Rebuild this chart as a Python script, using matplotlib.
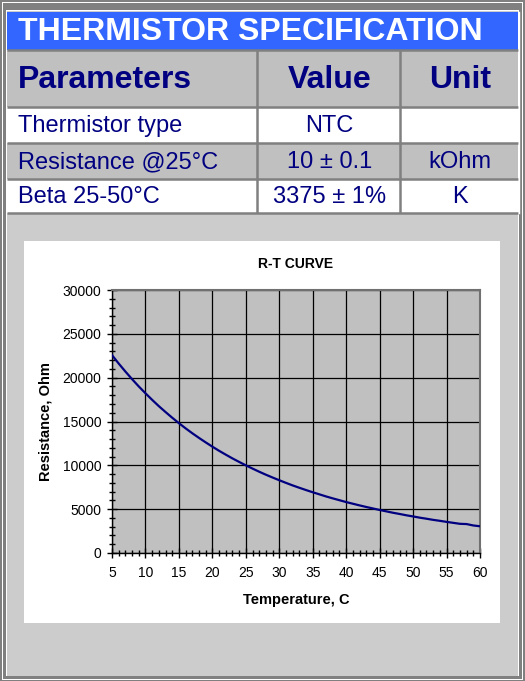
"""
Thermistor spec sheet: header table + R-T curve.
"""
import matplotlib

matplotlib.use("Agg")
import matplotlib.pyplot as plt
from matplotlib.patches import Rectangle
from matplotlib.ticker import MultipleLocator

plt.rcParams["font.family"] = ["Liberation Sans", "DejaVu Sans"]

# ---- table content ----
TITLE = "THERMISTOR SPECIFICATION"
HEADERS = ["Parameters", "Value", "Unit"]
PARAMS = ["Thermistor type", "Resistance @25°C", "Beta 25-50°C"]
VALUES = ["NTC", "10 ± 0.1", "3375 ± 1%"]
UNITS = ["", "kOhm", "K"]

# ---- R-T curve (1 °C steps) ----
temp_c = list(range(5, 61))
resistance = [
    22570, 21610, 20700, 19830, 19000, 18220, 17470, 16750, 16080, 15430,
    14810, 14220, 13660, 13130, 12620, 12130, 11660, 11220, 10790, 10390,
    10000, 9630, 9270, 8930, 8610, 8300, 8000, 7710, 7440, 7180,
    6930, 6690, 6450, 6230, 6020, 5810, 5620, 5430, 5250, 5080,
    4910, 4750, 4590, 4450, 4300, 4170, 4030, 3910, 3780, 3670,
    3550, 3440, 3330, 3300, 3140, 3050,
]

NAVY = "#000080"
BLUE = "#3366FF"
CELL_GRAY = "#C0C0C0"
PANEL_GRAY = "#CCCCCC"
LINE_GRAY = "#808080"

W, H = 525, 681
fig = plt.figure(figsize=(W / 100, H / 100), dpi=100)

# background canvas in pixel units
bg = fig.add_axes([0, 0, 1, 1])
bg.set_xlim(0, W)
bg.set_ylim(H, 0)
bg.axis("off")


def box(x0, y0, x1, y1, color, z=1):
    bg.add_patch(Rectangle((x0, y0), x1 - x0, y1 - y0, facecolor=color,
                           edgecolor="none", zorder=z))


# outer 3D frame
box(0, 0, W, H, LINE_GRAY, 0)
box(2, 2, W - 2, H - 1, "white", 0.1)
box(3, 3, W - 3, H - 2, LINE_GRAY, 0.2)
box(6, 10, W - 6, H - 5, "white", 0.3)
box(7, 11, W - 7, H - 5, PANEL_GRAY, 0.4)

# rows: title, header, 3 data rows
x_l, x_r = 7, 518
col_x = [x_l, 257, 400, x_r]
row_y = [12, 50, 107, 143, 179, 213]

box(x_l, row_y[0], x_r, row_y[1], BLUE, 1)
box(x_l, row_y[1], x_r, row_y[2], CELL_GRAY, 1)
row_colors = ["white", CELL_GRAY, "white"]
for i, c in enumerate(row_colors):
    box(x_l, row_y[i + 2], x_r, row_y[i + 3], c, 1)

# cell borders
for y in row_y[1:]:
    bg.plot([x_l, x_r], [y, y], color=LINE_GRAY, lw=1.8, zorder=2,
            solid_capstyle="butt")
for x in col_x[1:3]:
    bg.plot([x, x], [row_y[1], row_y[-1]], color=LINE_GRAY, lw=1.8,
            zorder=2, solid_capstyle="butt")
bg.plot([x_r + 0.5, x_r + 0.5], [row_y[0], row_y[-1]], color="white",
        lw=1, zorder=2)

bg.text(18, (row_y[0] + row_y[1]) / 2 + 1, TITLE, color="white",
        fontsize=23, fontweight="bold", ha="left", va="center", zorder=3)

centers_x = [None, (col_x[1] + col_x[2]) / 2 + 1, (col_x[2] + col_x[3]) / 2 + 1]
hy = (row_y[1] + row_y[2]) / 2 + 1
bg.text(18, hy, HEADERS[0], color=NAVY, fontsize=23, fontweight="bold",
        ha="left", va="center", zorder=3)
for j in (1, 2):
    bg.text(centers_x[j], hy, HEADERS[j], color=NAVY, fontsize=23,
            fontweight="bold", ha="center", va="center", zorder=3)

for i in range(3):
    cy = (row_y[i + 2] + row_y[i + 3]) / 2 + 1
    bg.text(18, cy, PARAMS[i], color=NAVY, fontsize=17, ha="left",
            va="center", zorder=3)
    bg.text(centers_x[1], cy, VALUES[i], color=NAVY, fontsize=17,
            ha="center", va="center", zorder=3)
    bg.text(centers_x[2], cy, UNITS[i], color=NAVY, fontsize=17,
            ha="center", va="center", zorder=3)

# white chart panel
box(24, 241, 500, 623, "white", 1)

# ---- chart ----
px_l, px_r, px_t, px_b = 112, 480, 290, 553
ax = fig.add_axes([px_l / W, 1 - px_b / H, (px_r - px_l) / W, (px_b - px_t) / H])
ax.set_facecolor(CELL_GRAY)
ax.plot(temp_c, resistance, color=NAVY, lw=1.6, zorder=3)

ax.set_xlim(5, 60)
ax.set_ylim(0, 30000)
ax.xaxis.set_major_locator(MultipleLocator(5))
ax.xaxis.set_minor_locator(MultipleLocator(1))
ax.yaxis.set_major_locator(MultipleLocator(5000))
ax.yaxis.set_minor_locator(MultipleLocator(1000))
ax.grid(True, which="major", color="black", lw=0.9, zorder=1)
ax.set_axisbelow(True)

ax.tick_params(which="major", direction="inout", length=7, width=1,
               labelsize=10, pad=4, color="black")
ax.tick_params(which="minor", direction="inout", length=5, width=1,
               color="black")
ax.tick_params(axis="x", which="major", pad=6)

for side in ("top", "right"):
    ax.spines[side].set_color("#707070")
    ax.spines[side].set_linewidth(1.5)
for side in ("left", "bottom"):
    ax.spines[side].set_color("black")
    ax.spines[side].set_linewidth(1)

ax.set_title("R-T CURVE", fontsize=10, fontweight="bold", pad=15.5)
ax.set_xlabel("Temperature, C", fontsize=10.5, fontweight="bold", va="center")
ax.set_ylabel("Resistance, Ohm", fontsize=10.5, fontweight="bold", va="center")
ax.xaxis.set_label_coords(0.5, -(600 - px_b) / (px_b - px_t))
ax.yaxis.set_label_coords(-(px_l - 45) / (px_r - px_l), 0.5)

fig.savefig("out.png", dpi=100)
